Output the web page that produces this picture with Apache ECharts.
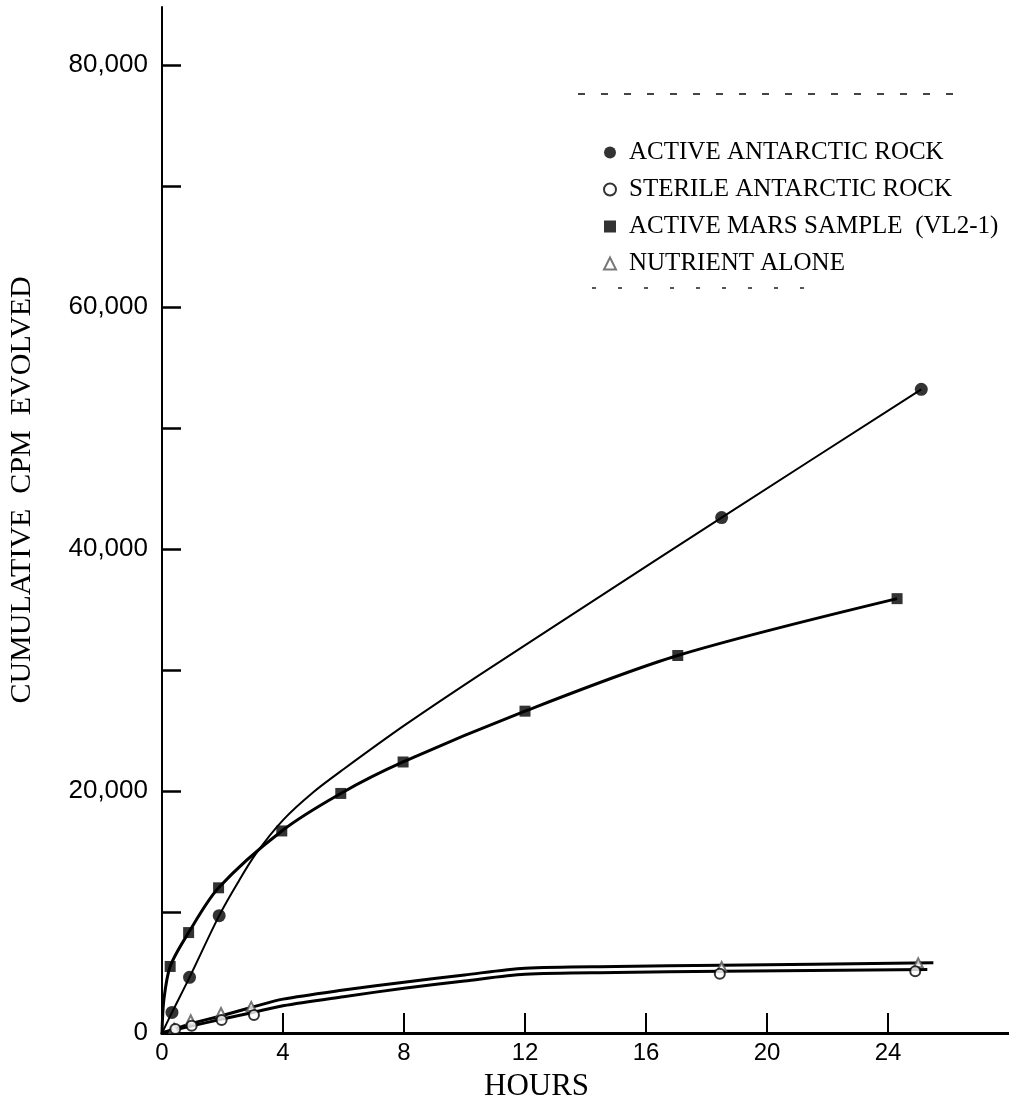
<!DOCTYPE html>
<html>
<head>
<meta charset="utf-8">
<style>
  html, body { margin: 0; padding: 0; background: #fff; }
  #chart { width: 1009px; height: 1108px; }
</style>
<script src="https://cdn.jsdelivr.net/npm/echarts@6/dist/echarts.min.js"></script>
</head>
<body>
<div id="chart"></div>
<script>
// ---- Data ----
const xTicks = [4, 8, 12, 16, 20, 24];
const xTickLabels = [0, 4, 8, 12, 16, 20, 24];
const yTicks = [10000, 20000, 30000, 40000, 50000, 60000, 70000, 80000];
const yTickValues = [0, 20000, 40000, 60000, 80000];
const yTickLabels = ['0', '20,000', '40,000', '60,000', '80,000'];

const seriesNames = ['ACTIVE ANTARCTIC ROCK', 'STERILE ANTARCTIC ROCK', 'ACTIVE MARS SAMPLE  (VL2-1)', 'NUTRIENT ALONE'];

// Active Antarctic rock (filled circles)
const rockHours = [0.33, 0.91, 1.89, 18.5, 25.1];
const rockCpm = [1700, 4600, 9700, 42600, 53200];
const rockCurveHours = [0, 0.33, 0.91, 1.89, 2.5, 3.1, 4, 5, 6, 8, 10.5, 14, 18.5, 25.1];
const rockCurveCpm = [0, 1700, 4600, 9700, 12400, 14800, 17600, 19900, 21800, 25400, 29600, 35300, 42600, 53200];

// Active Mars sample (filled squares)
const marsHours = [0.27, 0.88, 1.87, 3.96, 5.91, 7.97, 12.0, 17.05, 24.3];
const marsCpm = [5500, 8300, 12000, 16700, 19800, 22400, 26600, 31200, 35900];
const marsCurveHours = [0, 0.06, 0.27, 0.88, 1.87, 3.96, 5.91, 7.97, 12.0, 17.05, 24.3];
const marsCurveCpm = [0, 2700, 5500, 8300, 12000, 16700, 19800, 22400, 26600, 31200, 35900];

// Sterile Antarctic rock (open circles)
const sterileHours = [0.44, 0.98, 1.97, 3.04, 18.44, 24.9];
const sterileCpm = [330, 600, 1070, 1490, 4900, 5100];
const sterileCurveHours = [0, 1, 2, 3, 4, 6, 8, 10, 12, 15, 18.5, 25.3];
const sterileCurveCpm = [0, 600, 1150, 1700, 2250, 3000, 3700, 4300, 4850, 5000, 5100, 5250];

// Nutrient alone (open triangles)
const nutrientHours = [0.4, 0.95, 1.95, 2.95, 18.5, 25.0];
const nutrientCpm = [400, 1100, 1700, 2200, 5500, 5800];
const nutrientCurveHours = [0, 1, 2, 3, 4, 6, 8, 10, 12, 15, 18.5, 25.5];
const nutrientCurveCpm = [0, 800, 1450, 2150, 2800, 3550, 4200, 4800, 5350, 5500, 5600, 5800];

// ---- Build ----
const zip = (a, b) => a.map((v, i) => [v, b[i]]);
const INK = '#000';

const chart = echarts.init(document.getElementById('chart'), null, { renderer: 'canvas' });

function curve(xs, ys, width) {
  return {
    type: 'line', data: zip(xs, ys), smooth: 0.3,
    showSymbol: false, silent: true, z: 2,
    lineStyle: { color: INK, width: width }
  };
}

const option = {
  backgroundColor: '#fff',
  animation: false,
  grid: { left: 162, right: -5, top: 7, bottom: 75, containLabel: false },
  xAxis: [{
    type: 'value', min: 0, max: 28, interval: 4,
    axisLine: { show: true, onZero: false, lineStyle: { color: INK, width: 3 } },
    axisTick: { show: true, inside: true, length: 20, customValues: xTicks, lineStyle: { color: INK, width: 2 } },
    axisLabel: {
      margin: 8, color: INK, fontFamily: 'Liberation Sans', fontSize: 24,
      customValues: xTickLabels, formatter: v => String(v)
    },
    splitLine: { show: false }
  }, {
    type: 'value', position: 'top', min: 0, max: 28,
    axisLine: { show: true, lineStyle: { color: INK, width: 3 } },
    axisTick: { show: false }, axisLabel: { show: false }, splitLine: { show: false }
  }],
  yAxis: {
    type: 'value', min: 0, max: 84800, interval: 10000,
    axisLine: { show: true, lineStyle: { color: INK, width: 2 } },
    axisTick: { show: true, inside: true, length: 19, customValues: yTicks, lineStyle: { color: INK, width: 2.5 } },
    axisLabel: {
      margin: 14, color: INK, fontFamily: 'Liberation Sans', fontSize: 26,
      customValues: yTickValues,
      formatter: v => yTickLabels[yTickValues.indexOf(v)] || ''
    },
    splitLine: { show: false }
  },
  legend: {
    orient: 'vertical', left: 598, top: 135, itemGap: 12,
    itemWidth: 12, itemHeight: 12,
    textStyle: { color: INK, fontFamily: 'Liberation Serif', fontSize: 25, padding: [0, 0, 0, 8] },
    data: [
      { name: seriesNames[0], icon: 'circle' },
      { name: seriesNames[1], icon: 'emptyCircle' },
      { name: seriesNames[2], icon: 'rect' },
      { name: seriesNames[3], icon: 'emptyTriangle' }
    ]
  },
  graphic: [
    { type: 'text', left: 484, top: 1071,
      style: { text: 'HOURS', fill: INK, font: '31px "Liberation Serif"' } },
    { type: 'text', x: 22, y: 490, rotation: Math.PI / 2,
      style: { text: 'CUMULATIVE  CPM  EVOLVED', fill: INK, font: '30px "Liberation Serif"',
               textAlign: 'center', textVerticalAlign: 'middle' } },
    { type: 'line', shape: { x1: 578, y1: 94, x2: 955, y2: 94 },
      style: { stroke: '#444', lineWidth: 2, lineDash: [7, 16] } },
    { type: 'line', shape: { x1: 592, y1: 288, x2: 820, y2: 288 },
      style: { stroke: '#555', lineWidth: 2, lineDash: [4, 22] } }
  ],
  series: [
    curve(rockCurveHours, rockCurveCpm, 2),
    curve(marsCurveHours, marsCurveCpm, 3),
    curve(sterileCurveHours, sterileCurveCpm, 3),
    curve(nutrientCurveHours, nutrientCurveCpm, 3),
    { name: seriesNames[0], type: 'scatter', data: zip(rockHours, rockCpm), symbol: 'circle', symbolSize: 13,
      itemStyle: { color: INK }, z: 5 },
    { name: seriesNames[1], type: 'scatter', data: zip(sterileHours, sterileCpm), symbol: 'emptyCircle', symbolSize: 10,
      itemStyle: { color: INK, borderColor: INK, borderWidth: 2 }, z: 5 },
    { name: seriesNames[2], type: 'scatter', data: zip(marsHours, marsCpm), symbol: 'rect', symbolSize: 11,
      itemStyle: { color: INK }, z: 5 },
    { name: seriesNames[3], type: 'scatter', data: zip(nutrientHours, nutrientCpm), symbol: 'emptyTriangle', symbolSize: 9,
      itemStyle: { color: '#555', borderColor: '#555', borderWidth: 1.2 }, z: 4 }
  ]
};
chart.setOption(option);
</script>
</body>
</html>
